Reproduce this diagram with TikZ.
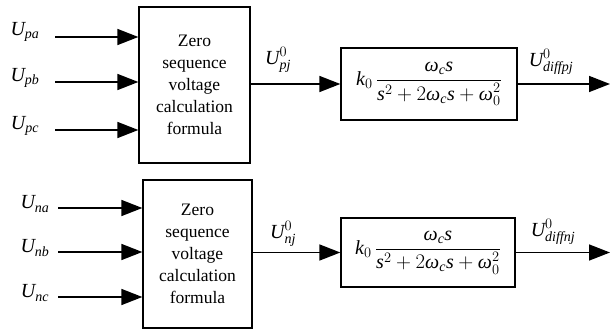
\documentclass[tikz,border=0pt]{standalone}
\usepackage{amsmath}
\usepackage{fontspec}
\setmainfont{Liberation Serif}
\usetikzlibrary{arrows.meta}
\newcommand\vI[1]{\textit{#1}}
\begin{document}
\begin{tikzpicture}[x=1pt,y=-1pt,
  blockbox/.style={draw,line width=1.3pt,minimum width=#1,inner sep=0pt},
  calcbox/.style={blockbox=111pt,minimum height=156pt,align=center,font=\fontsize{17.5}{22}\selectfont},
  tfbox/.style={blockbox=176pt,minimum height=72pt,font=\fontsize{20}{24}\selectfont},
  arr/.style={line width=1.6pt,-{Triangle[length=21pt,width=16pt]}},
  lbl/.style={font=\fontsize{20}{24}\selectfont,inner sep=0pt}]
\useasboundingbox (0,0) rectangle (611,331);
% top row
\node[calcbox] (c1) at (194.5,85) {Zero\\sequence\\voltage\\calculation\\formula};
\node[tfbox] (t1) at (429,84) {$\vI{k}_0\,\displaystyle\frac{\vI{ω}_{\vI{c}}\vI{s}}{\vI{s}^2+2\vI{ω}_{\vI{c}}\vI{s}+\vI{ω}_0^2}$};
\coordinate (pa) at (55,37);
\coordinate (pb) at (55,82);
\coordinate (pc) at (55,130);
\coordinate (o1) at (610,84);
\node[lbl] (lpa) at (25,32) {$\vI{U}_{\vI{pa}}$};
\node[lbl] (lpb) at (25,78) {$\vI{U}_{\vI{pb}}$};
\node[lbl] (lpc) at (25,126) {$\vI{U}_{\vI{pc}}$};
\node[lbl] (lpj) at (278,60) {$\vI{U}_{\vI{pj}}^0$};
\node[lbl] (ldp) at (551,62) {$\vI{U}_{\vI{diffpj}}^0$};
\draw[arr] (pa) -- (pa -| c1.west);
\draw[arr] (pb) -- (pb -| c1.west);
\draw[arr] (pc) -- (pc -| c1.west);
\draw[arr] (c1.east |- t1.west) -- (t1.west);
\draw[arr] (t1.east) -- (o1);
% bottom row
\node[calcbox,minimum width=109pt,minimum height=148pt] (c2) at (197.5,254) {Zero\\sequence\\voltage\\calculation\\formula};
\node[tfbox,minimum width=174pt,minimum height=69pt] (t2) at (428,252.5) {$\vI{k}_0\,\displaystyle\frac{\vI{ω}_{\vI{c}}\vI{s}}{\vI{s}^2+2\vI{ω}_{\vI{c}}\vI{s}+\vI{ω}_0^2}$};
\coordinate (na) at (58,208);
\coordinate (nb) at (58,252);
\coordinate (nc) at (58,297);
\coordinate (o2) at (610,252.5);
\node[lbl] (lna) at (35,204) {$\vI{U}_{\vI{na}}$};
\node[lbl] (lnb) at (35,248) {$\vI{U}_{\vI{nb}}$};
\node[lbl] (lnc) at (35,293) {$\vI{U}_{\vI{nc}}$};
\node[lbl] (lnj) at (283,234) {$\vI{U}_{\vI{nj}}^0$};
\node[lbl] (ldn) at (553,232) {$\vI{U}_{\vI{diffnj}}^0$};
\draw[arr] (na) -- (na -| c2.west);
\draw[arr] (nb) -- (nb -| c2.west);
\draw[arr] (nc) -- (nc -| c2.west);
\draw[arr] (c2.east |- t2.west) -- (t2.west);
\draw[arr] (t2.east) -- (o2);
\end{tikzpicture}
\end{document}
